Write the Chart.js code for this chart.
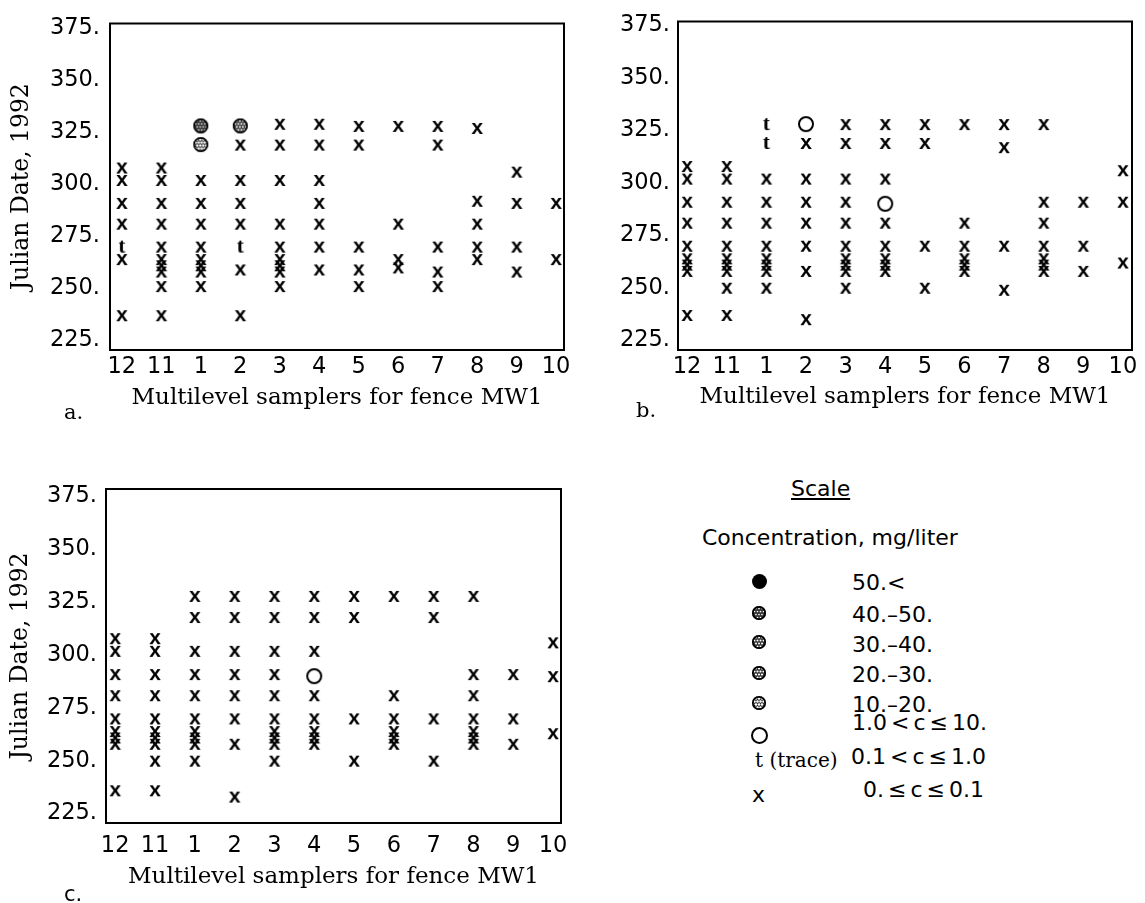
<!DOCTYPE html>
<html>
<head>
<meta charset="utf-8">
<title>Fence MW1 samplers</title>
<script src="https://cdn.jsdelivr.net/npm/chart.js@4.4.1/dist/chart.umd.min.js"></script>
<style>
  html, body { margin: 0; padding: 0; background: #fff; }
  body { position: relative; width: 1145px; height: 903px; overflow: hidden; }
  .panel { position: absolute; }
  .txt { position: absolute; white-space: nowrap; color: #000; line-height: 1; }
  .sans { font-family: "DejaVu Sans", sans-serif; font-size: 22px; }
  .serif { font-family: "DejaVu Serif", serif; }
  .sym { position: absolute; }
</style>
</head>
<body>
<div class="panel" style="left:0;top:0;width:590px;height:425px"><canvas id="chartA"></canvas></div>
<div class="panel" style="left:570px;top:0;width:575px;height:425px"><canvas id="chartB"></canvas></div>
<div class="panel" style="left:0;top:440px;width:590px;height:463px"><canvas id="chartC"></canvas></div>

<div class="txt serif" style="left:64px;top:402px;font-size:21px">a.</div>
<div class="txt serif" style="left:636px;top:400px;font-size:21px">b.</div>
<div class="txt sans" style="left:64px;top:884px;font-size:21px">c.</div>

<!-- concentration scale -->
<div class="txt sans" style="left:791px;top:478px;text-decoration:underline">Scale</div>
<div class="txt sans" style="left:702px;top:527px">Concentration, mg/liter</div>
<div class="txt sans" style="left:852px;top:572px">50.&lt;</div>
<div class="txt sans" style="left:852px;top:604px">40.–50.</div>
<div class="txt sans" style="left:852px;top:634px">30.–40.</div>
<div class="txt sans" style="left:852px;top:664px">20.–30.</div>
<div class="txt sans" style="left:852px;top:694px">10.–20.</div>
<div class="txt sans" style="left:852px;top:712px;word-spacing:-3px">1.0 &lt; c ≤ 10.</div>
<div class="txt sans" style="left:851px;top:746px;word-spacing:-3px">0.1 &lt; c ≤ 1.0</div>
<div class="txt sans" style="left:863px;top:779px;word-spacing:-3px">0. ≤ c ≤ 0.1</div>
<div class="txt serif" style="left:755px;top:750px;font-size:20px">t (trace)</div>
<div class="txt sans" style="left:752px;top:784px">x</div>
<div id="scaleMarks"></div>

<script>
// sampler order along the fence, left to right
const samplers = ['12', '11', '1', '2', '3', '4', '5', '6', '7', '8', '9', '10'];
const dateTicks = [225, 250, 275, 300, 325, 350, 375];

// a. Julian dates with 0. <= c <= 0.1, one list per sampler (same order as samplers)
const aLow = [
    [308, 302, 291, 281, 264, 237],
    [308, 302, 291, 281, 270, 264, 261, 258, 251, 237],
    [302, 291, 281, 270, 264, 261, 258, 251],
    [319, 302, 291, 281, 259, 237],
    [329, 319, 302, 281, 270, 264, 261, 258, 251],
    [329, 319, 302, 291, 281, 270, 259],
    [328, 319, 270, 259, 251],
    [328, 281, 264, 260],
    [328, 319, 270, 258, 251],
    [327, 292, 281, 270, 264],
    [306, 291, 270, 258],
    [291, 264]
];
const aTrace = [['12', 270], ['2', 270]];
const aC40 = [['1', 328]];
const aC30 = [['2', 328]];
const aC20 = [['1', 319]];

// b.
const bLow = [
    [308, 302, 291, 281, 270, 264, 261, 258, 237],
    [308, 302, 291, 281, 270, 264, 261, 258, 250, 237],
    [302, 291, 281, 270, 264, 261, 258, 250],
    [319, 302, 291, 281, 270, 258, 235],
    [328, 319, 302, 291, 281, 270, 264, 261, 258, 250],
    [328, 319, 302, 281, 270, 264, 261, 258],
    [328, 319, 270, 250],
    [328, 281, 270, 264, 261, 258],
    [328, 317, 270, 249],
    [328, 291, 281, 270, 264, 261, 258],
    [291, 270, 258],
    [306, 291, 262]
];
const bTrace = [['1', 328], ['1', 319]];
const bOpen = [['2', 328], ['4', 290]];

// c.
const cLow = [
    [308, 302, 291, 281, 270, 264, 261, 258, 236],
    [308, 302, 291, 281, 270, 264, 261, 258, 250, 236],
    [328, 318, 302, 291, 281, 270, 264, 261, 258, 250],
    [328, 318, 302, 291, 281, 270, 258, 233],
    [328, 318, 302, 291, 281, 270, 264, 261, 258, 250],
    [328, 318, 302, 281, 270, 264, 261, 258],
    [328, 318, 270, 250],
    [328, 281, 270, 264, 261, 258],
    [328, 318, 270, 250],
    [328, 291, 281, 270, 264, 261, 258],
    [291, 270, 258],
    [306, 290, 263]
];
const cOpen = [['4', 290]];

Chart.defaults.font.family = '"DejaVu Sans", sans-serif';
Chart.defaults.color = '#000';

// a text glyph (x or t) as a point image, centred on its ink
function inkGlyph(ch, font) {
    const c = document.createElement('canvas');
    c.width = 26; c.height = 26;
    const g = c.getContext('2d');
    g.font = font;
    g.fillStyle = '#000';
    g.textAlign = 'center';
    const m = g.measureText(ch);
    g.fillText(ch, 13, 13 + (m.actualBoundingBoxAscent - m.actualBoundingBoxDescent) / 2);
    return c;
}

// circle marks: dot === null is the open ring, 0 is solid, otherwise a screened fill
function disc(d, dot) {
    const s = d + 4, r = d / 2, m = s / 2;
    const c = document.createElement('canvas');
    c.width = s; c.height = s;
    const g = c.getContext('2d');
    g.beginPath();
    g.arc(m, m, r, 0, Math.PI * 2);
    if (dot === null) {
        g.lineWidth = 2;
        g.strokeStyle = '#000';
        g.stroke();
        return c;
    }
    g.fillStyle = dot > 0 ? '#333' : '#000';
    g.fill();
    if (dot > 0) {
        g.save();
        g.clip();
        g.fillStyle = '#fff';
        for (let y = 1.5, row = 0; y < s; y += 3, row++) {
            for (let x = 1.5 + (row % 2) * 1.5; x < s; x += 3) {
                g.beginPath();
                g.arc(x, y, dot, 0, Math.PI * 2);
                g.fill();
            }
        }
        g.restore();
        g.beginPath();
        g.arc(m, m, r - 0.8, 0, Math.PI * 2);
        g.lineWidth = 1.7;
        g.strokeStyle = '#000';
        g.stroke();
    }
    return c;
}

const MARK = {
    low: inkGlyph('x', 'bold 21px "Liberation Sans"'),
    trace: inkGlyph('t', 'bold 21px "Liberation Serif"'),
    open: disc(14, null),
    c40: disc(15, 0.85),
    c30: disc(15, 1.05),
    c20: disc(15, 1.2)
};

function lowPoints(rows) {
    const pts = [];
    rows.forEach((dates, i) => dates.forEach(d => pts.push({ x: i, y: d })));
    return pts;
}
function pairPoints(list) {
    return list.map(([s, d]) => ({ x: samplers.indexOf(s), y: d }));
}
function ds(points, style) {
    return { data: points, pointStyle: style, pointRadius: 4, pointHoverRadius: 4 };
}

// box around the plotting area
const frame = {
    id: 'frame',
    afterDatasetsDraw(chart) {
        const a = chart.chartArea, ctx = chart.ctx;
        ctx.save();
        ctx.lineWidth = 2;
        ctx.strokeStyle = '#000';
        ctx.strokeRect(a.left, a.top, a.right - a.left, a.bottom - a.top);
        ctx.restore();
    }
};

function fenceChart(id, datasets, lay) {
    return new Chart(document.getElementById(id), {
        type: 'scatter',
        data: { datasets: datasets },
        options: {
            responsive: true,
            maintainAspectRatio: false,
            animation: false,
            events: [],
            layout: { padding: { top: lay.top, right: lay.right, left: 0, bottom: 0 } },
            plugins: { legend: { display: false }, tooltip: { enabled: false } },
            scales: {
                x: {
                    type: 'linear',
                    min: lay.xMin, max: lay.xMax,
                    grid: { display: false, drawTicks: false },
                    border: { display: false },
                    afterBuildTicks: s => { s.ticks = samplers.map((_, i) => ({ value: i })); },
                    ticks: {
                        autoSkip: false, maxRotation: 0, padding: lay.xPad,
                        font: { size: 22.5 },
                        callback: v => samplers[v]
                    },
                    title: {
                        display: true,
                        text: 'Multilevel samplers for fence MW1',
                        font: { family: '"DejaVu Serif", serif', size: 23 },
                        padding: { top: 0, bottom: lay.xTitlePad }
                    },
                    afterFit: s => { s.height = lay.xHeight; }
                },
                y: {
                    type: 'linear',
                    min: lay.yMin, max: lay.yMax,
                    grid: { display: false, drawTicks: false },
                    border: { display: false },
                    afterBuildTicks: s => { s.ticks = dateTicks.map(v => ({ value: v })); },
                    ticks: { padding: lay.yPad, font: { size: 22.5 }, callback: v => v + '.' },
                    title: {
                        display: lay.yTitle,
                        text: 'Julian Date, 1992',
                        font: { family: '"DejaVu Serif", serif', size: 23.5 },
                        padding: { top: lay.yTitlePad, bottom: 0 }
                    },
                    afterFit: s => { s.width = lay.yWidth; }
                }
            }
        },
        plugins: [frame]
    });
}

fenceChart('chartA', [
    ds(lowPoints(aLow), MARK.low),
    ds(pairPoints(aTrace), MARK.trace),
    ds(pairPoints(aC40), MARK.c40),
    ds(pairPoints(aC30), MARK.c30),
    ds(pairPoints(aC20), MARK.c20)
], { top: 18, right: 26, xMin: -0.3, xMax: 11.2, yMin: 220.3, yMax: 377.2,
     yWidth: 110, yPad: 10, xHeight: 75, xPad: 4, xTitlePad: 13, yTitle: true, yTitlePad: 8 });

fenceChart('chartB', [
    ds(lowPoints(bLow), MARK.low),
    ds(pairPoints(bTrace), MARK.trace),
    ds(pairPoints(bOpen), MARK.open)
], { top: 20, right: 13, xMin: -0.23, xMax: 11.23, yMin: 220.3, yMax: 376.9,
     yWidth: 108, yPad: 8, xHeight: 75, xPad: 4, xTitlePad: 14, yTitle: false, yTitlePad: 0 });

fenceChart('chartC', [
    ds(lowPoints(cLow), MARK.low),
    ds(pairPoints(cOpen), MARK.open)
], { top: 49, right: 29, xMin: -0.23, xMax: 11.2, yMin: 220.5, yMax: 378.6,
     yWidth: 106, yPad: 9, xHeight: 80, xPad: 10, xTitlePad: 12, yTitle: true, yTitlePad: 7 });

// circle symbols of the concentration scale
const scaleMarks = [
    [disc(15, 0), 581.7],
    [disc(14, 0.85), 613.3],
    [disc(14, 1.0), 641.7],
    [disc(14, 1.1), 673.3],
    [disc(14, 1.2), 703.3],
    [disc(15, null), 735]
];
const holder = document.getElementById('scaleMarks');
scaleMarks.forEach(([cv, cy]) => {
    cv.className = 'sym';
    cv.style.left = (759 - cv.width / 2) + 'px';
    cv.style.top = (cy - cv.height / 2) + 'px';
    holder.appendChild(cv);
});
</script>
</body>
</html>
